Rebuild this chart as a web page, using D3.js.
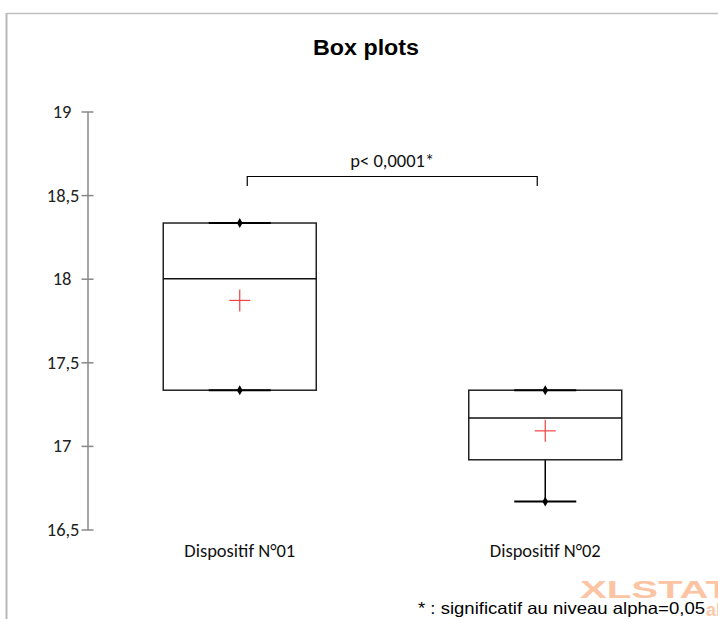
<!DOCTYPE html>
<html><head><meta charset="utf-8">
<script src="https://cdn.jsdelivr.net/npm/d3@7"></script>
<style>body{margin:0;background:#fff}svg{display:block}</style>
</head><body>
<script>
const categories = ["Dispositif N°01", "Dispositif N°02"];
const minVals = [17.333, 16.667];
const q1Vals = [17.333, 16.917];
const medianVals = [18.0, 17.167];
const q3Vals = [18.333, 17.333];
const maxVals = [18.333, 17.333];
const meanVals = [17.87, 17.09];
const yTicks = [16.5, 17, 17.5, 18, 18.5, 19];
const pLabel = "p< 0,0001*";
const footnote = "* : significatif au niveau alpha=0,05";

const W = 718, H = 619;
const svg = d3.select("body").append("svg").attr("width", W).attr("height", H);

// outer frame
svg.append("line").attr("x1", 6.5).attr("x2", 718).attr("y1", 13.5).attr("y2", 13.5).attr("stroke", "#c0c0c0").attr("stroke-width", 1.5);
svg.append("line").attr("x1", 6.5).attr("x2", 6.5).attr("y1", 13).attr("y2", H).attr("stroke", "#b8b8b8").attr("stroke-width", 2);

const y = d3.scaleLinear().domain([16.5, 19]).range([529.5, 111.5]);
const x = d3.scaleBand().domain(categories).range([87, 698]).paddingInner(0).paddingOuter(0);
const cx = c => x(c) + x.bandwidth() / 2;

const calibri = "Carlito, Lato, 'Open Sans', sans-serif";

// title
svg.append("text").attr("x", 366).attr("y", 55).attr("text-anchor", "middle")
  .attr("font-family", "Liberation Sans, Arial").attr("font-weight", "bold").attr("font-size", 22)
  .attr("textLength", 106).attr("lengthAdjust", "spacingAndGlyphs").text("Box plots");

// y axis (decimal-aligned labels)
const yAxis = d3.axisLeft(y).tickValues(yTicks).tickSizeInner(0).tickSizeOuter(0)
  .tickFormat(d => String(d).replace(".", ","));
const gy = svg.append("g").attr("transform", "translate(87.5,0)").call(yAxis);
gy.select(".domain").attr("stroke", "#888").attr("stroke-width", 1.5);
gy.selectAll(".tick line").attr("x1", -6).attr("x2", 6).attr("stroke", "#888").attr("stroke-width", 1.5);
gy.selectAll(".tick text").attr("x", d => Number.isInteger(d) ? -16 : -8)
  .attr("font-family", calibri).attr("font-size", 18.5).attr("fill", "#222");

// x labels
svg.selectAll(".xl").data(categories).join("text").attr("class", "xl")
  .attr("x", d => cx(d)).attr("y", 557).attr("text-anchor", "middle")
  .attr("font-family", calibri).attr("font-size", 18.5).attr("fill", "#111").text(d => d);

const half = 76.5, cap = 31;
const g = svg.selectAll(".box").data(categories).join("g").attr("class", "box");
g.each(function(c, i) {
  const s = d3.select(this), xc = cx(c);
  if (maxVals[i] > q3Vals[i]) s.append("line").attr("x1", xc).attr("x2", xc).attr("y1", y(maxVals[i])).attr("y2", y(q3Vals[i])).attr("stroke", "#000").attr("stroke-width", 1.5);
  if (minVals[i] < q1Vals[i]) s.append("line").attr("x1", xc).attr("x2", xc).attr("y1", y(q1Vals[i])).attr("y2", y(minVals[i])).attr("stroke", "#000").attr("stroke-width", 1.5);
  s.append("rect").attr("x", xc - half).attr("width", 2 * half).attr("y", y(q3Vals[i])).attr("height", y(q1Vals[i]) - y(q3Vals[i]))
    .attr("fill", "none").attr("stroke", "#222").attr("stroke-width", 1.5);
  s.append("line").attr("x1", xc - half).attr("x2", xc + half).attr("y1", y(medianVals[i])).attr("y2", y(medianVals[i])).attr("stroke", "#111").attr("stroke-width", 1.5);
  [minVals[i], maxVals[i]].forEach(v => {
    s.append("line").attr("x1", xc - cap).attr("x2", xc + cap).attr("y1", y(v)).attr("y2", y(v)).attr("stroke", "#000").attr("stroke-width", 2);
    s.append("path").attr("d", d3.symbol(d3.symbolDiamond, 28)()).attr("transform", `translate(${xc},${y(v)})`).attr("fill", "#000");
  });
  const my = y(meanVals[i]);
  s.append("line").attr("x1", xc - 10.5).attr("x2", xc + 10.5).attr("y1", my).attr("y2", my).attr("stroke", "#f04040").attr("stroke-width", 1.2);
  s.append("line").attr("x1", xc).attr("x2", xc).attr("y1", my - 11).attr("y2", my + 11).attr("stroke", "#f04040").attr("stroke-width", 1.2);
});

// significance bracket
const x1 = cx(categories[0]) + 7.5, x2 = cx(categories[1]) - 8;
svg.append("path").attr("d", `M${x1},186V176.5H${x2}V186`).attr("fill", "none").attr("stroke", "#000").attr("stroke-width", 1.2);
svg.append("text").attr("x", (x1 + x2) / 2).attr("y", 167).attr("text-anchor", "middle")
  .attr("font-family", calibri).attr("font-size", 18.5).attr("fill", "#111").text(pLabel);

// watermark
svg.append("text").attr("x", 580).attr("y", 598).attr("font-family", "Liberation Sans, Arial").attr("font-weight", "bold")
  .attr("font-size", 24).attr("textLength", 150).attr("lengthAdjust", "spacingAndGlyphs").attr("fill", "#fdc4a4").text("XLSTAT");
svg.append("text").attr("x", 706).attr("y", 616).attr("font-family", "Liberation Sans, Arial").attr("font-weight", "bold")
  .attr("font-size", 18).attr("fill", "#fcc8a8").text("al");

// footnote
svg.append("text").attr("x", 418).attr("y", 614).attr("font-family", "Liberation Sans, Arial")
  .attr("font-size", 16.5).attr("textLength", 287).attr("lengthAdjust", "spacingAndGlyphs").attr("fill", "#000").text(footnote);
</script>
</body></html>
